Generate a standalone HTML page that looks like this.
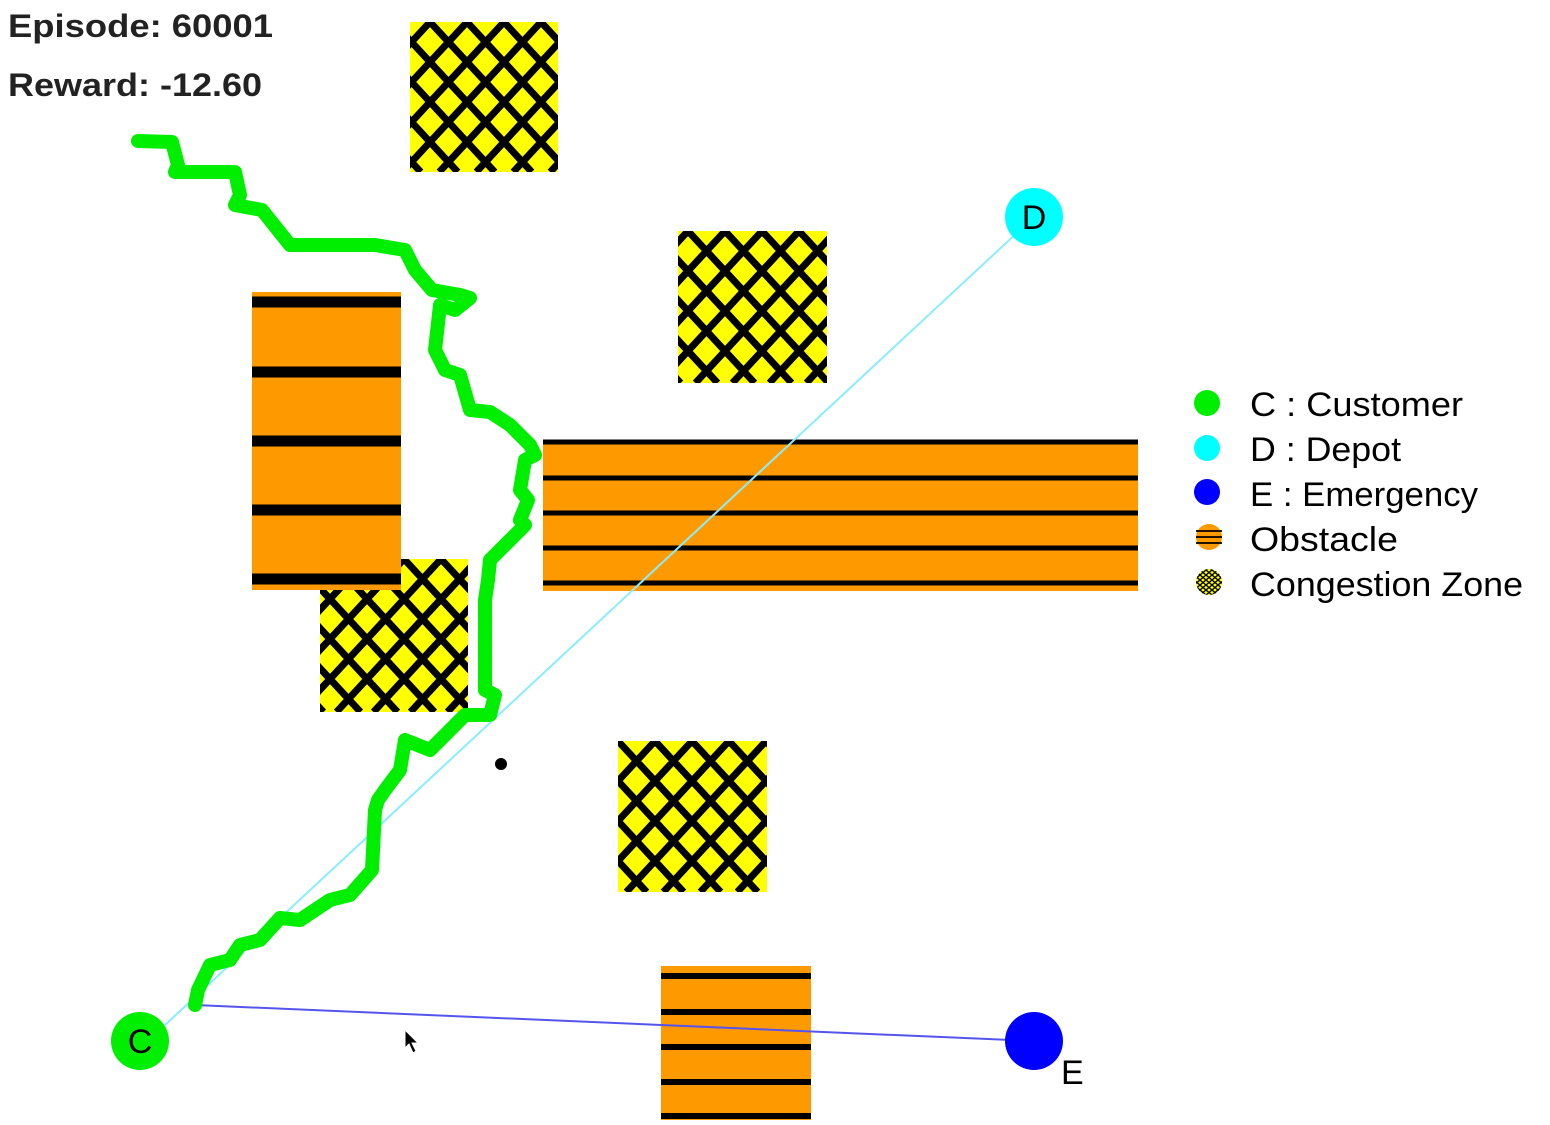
<!DOCTYPE html>
<html><head><meta charset="utf-8"><style>
html,body{margin:0;padding:0;background:#fff;}
svg{display:block;}
text{font-family:"Liberation Sans",sans-serif;}
</style></head><body>
<svg id="chart" width="1550" height="1125" viewBox="0 0 1550 1125" xmlns="http://www.w3.org/2000/svg">
<defs id="defs">
<pattern id="hatchS" patternUnits="userSpaceOnUse" width="6" height="5">
<rect width="6" height="5" fill="#ffff00"/><path d="M0,0L6,5M0,5L6,0" stroke="#000" stroke-width="1.3"/>
</pattern>
</defs>
<rect width="1550" height="1125" fill="#fff"/>
<text x="8" y="37" font-size="32" font-weight="bold" fill="#222" textLength="265" lengthAdjust="spacingAndGlyphs">Episode: 60001</text>
<text x="8" y="96" font-size="32" font-weight="bold" fill="#222" textLength="254" lengthAdjust="spacingAndGlyphs">Reward: -12.60</text>
<g id="zones"></g>
<g id="obst"></g>
<g id="lines"></g>
<g id="path"></g>
<circle cx="501" cy="764" r="6" fill="#000"/>
<path d="M405,1030 L405,1048 L409,1044 L413,1053 L416,1051 L412,1043 L418,1043 Z" fill="#000" stroke="#fff" stroke-width="1"/>
<g id="nodes"></g>
<g>
<circle cx="1207" cy="403" r="13" fill="#00ee00"/>
<text x="1250" y="416" font-size="34" textLength="213" lengthAdjust="spacingAndGlyphs">C : Customer</text>
<circle cx="1207" cy="448" r="13" fill="#00ffff"/>
<text x="1250" y="461" font-size="34" textLength="151" lengthAdjust="spacingAndGlyphs">D : Depot</text>
<circle cx="1207" cy="492" r="13" fill="#0000ff"/>
<text x="1250" y="506" font-size="34" textLength="228" lengthAdjust="spacingAndGlyphs">E : Emergency</text>
<circle cx="1209" cy="537" r="13" fill="#ff9900"/>
<path d="M1196,531H1222M1196,537H1222M1196,543H1222" stroke="#000" stroke-width="1.8"/>
<text x="1250" y="551" font-size="34" textLength="148" lengthAdjust="spacingAndGlyphs">Obstacle</text>
<circle cx="1209" cy="582" r="13" fill="url(#hatchS)"/>
<text x="1250" y="596" font-size="34" textLength="273" lengthAdjust="spacingAndGlyphs">Congestion Zone</text>
</g>
</svg>
<script>
const NS="http://www.w3.org/2000/svg";
const zoneX=[410,678,320,618];
const zoneY=[22,231,559,741];
const zoneW=[148,149,148,149];
const zoneH=[150,152,153,151];
const obsX=[252,543,661];
const obsY=[292,440,966];
const obsW=[149,595,150];
const obsH=[298,151,154];
const obsStripes=[[302,372,441,510,579],[442,478,513,548,583],[976,1012,1047,1082,1116]];
const obsStripeW=[11,5,6];
const pathX=[138,172,178,175,235,240,235,262,290,375,405,415,432,460,470,455,440,435,445,460,470,490,510,530,535,525,520,528,520,525,510,490,488,485,485,495,490,465,430,405,400,385,378,375,372,350,330,300,280,260,240,230,210,198,195];
const pathY=[141,142,165,172,172,195,205,210,245,245,250,270,290,295,298,310,305,350,370,375,410,412,425,445,455,460,490,500,520,525,540,560,580,600,690,695,715,715,750,740,770,790,800,810,870,895,900,920,918,940,945,960,965,990,1005];
const nodeLabels=["C","D","E"];
const nodeX=[140,1034,1034];
const nodeY=[1041,217,1041];
const nodeColor=["#00ee00","#00ffff","#0000ff"];
function mk(t,a,p){const e=document.createElementNS(NS,t);for(const k in a)e.setAttribute(k,a[k]);p.appendChild(e);return e;}
const defs=document.getElementById('defs');
const zg=document.getElementById('zones');
const hx=37, hy=40;
const phase=[20,10,10,0];
zoneX.forEach((x,i)=>{
const cp=mk('clipPath',{id:'zc'+i},defs);
mk('rect',{x:x,y:zoneY[i],width:zoneW[i],height:zoneH[i]},cp);
const g=mk('g',{'clip-path':'url(#zc'+i+')'},zg);


mk('rect',{x:x,y:zoneY[i],width:zoneW[i],height:zoneH[i],fill:'#ffff00'},g);
let d='';const H=zoneH[i],W=zoneW[i],dx=H*(hx/2)/(hy/2);
for(let k=-Math.ceil(dx/hx)-2;k<=Math.ceil((W+dx)/hx)+2;k++){
const x0=x+phase[i]+k*hx;
d+='M'+x0+','+zoneY[i]+'L'+(x0+dx)+','+(zoneY[i]+H);
d+='M'+x0+','+zoneY[i]+'L'+(x0-dx)+','+(zoneY[i]+H);
}
mk('path',{d:d,stroke:'#000','stroke-width':7,fill:'none'},g);
});
const og=document.getElementById('obst');
obsX.forEach((x,i)=>{const r=mk('rect',{x:x,y:obsY[i],width:obsW[i],height:obsH[i],fill:'#ff9900'},og);


obsStripes[i].forEach(y=>{const l=mk('rect',{x:x,y:y-obsStripeW[i]/2,width:obsW[i],height:obsStripeW[i],fill:'#000'},og);

});});
const lg=document.getElementById('lines');
const n=pathX.length-1;
const l1=mk('line',{x1:nodeX[0]+25,y1:nodeY[0]-16,x2:nodeX[1],y2:nodeY[1],stroke:'#88eeff','stroke-width':2},lg);


const l2=mk('line',{x1:pathX[n],y1:pathY[n],x2:nodeX[2],y2:nodeY[2],stroke:'#5555ee','stroke-width':2},lg);


const pg=document.getElementById('path');
const pl=mk('polyline',{points:pathX.map((x,i)=>x+','+pathY[i]).join(' '),fill:'none',stroke:'#00ee00','stroke-width':14,'stroke-linejoin':'round','stroke-linecap':'round'},pg);


const ng=document.getElementById('nodes');
nodeLabels.forEach((lab,i)=>{const c=mk('circle',{cx:nodeX[i],cy:nodeY[i],r:29,fill:nodeColor[i]},ng);


const t=mk('text',{x:lab==='E'?nodeX[i]+27:nodeX[i],y:lab==='E'?nodeY[i]+43:nodeY[i]+12,'font-size':34,'text-anchor':lab==='E'?'start':'middle',fill:'#000'},ng);
t.textContent=lab;

});
</script>
</body></html>
